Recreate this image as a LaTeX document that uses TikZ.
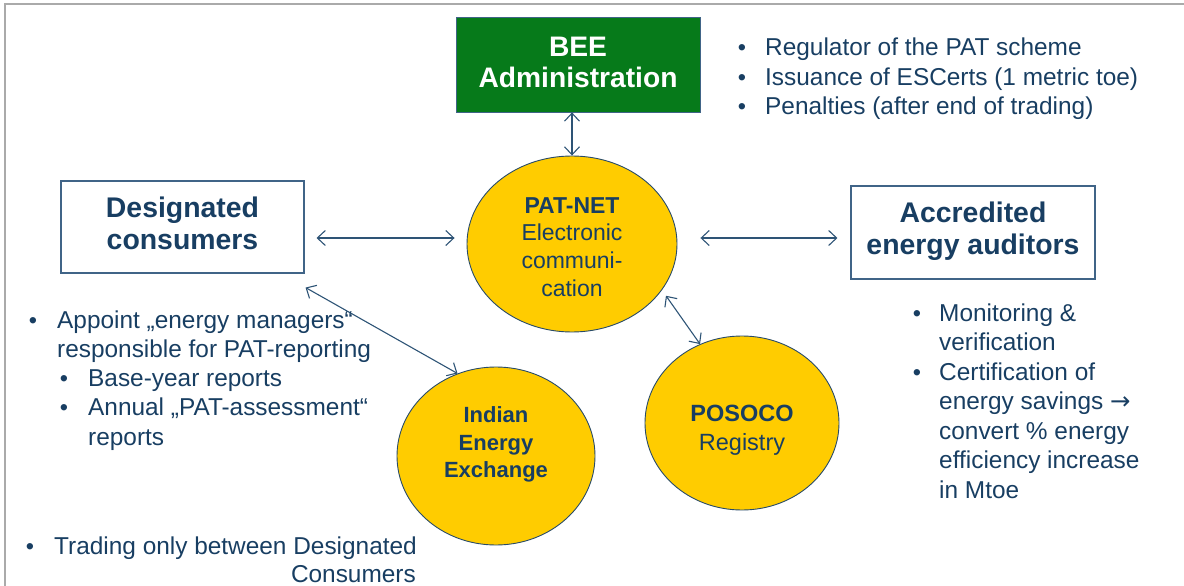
\documentclass[tikz,border=0pt]{standalone}
\usepackage{fontspec}
\setmainfont{Liberation Sans}
\newfontfamily\arrowfont{DejaVu Sans}
\usetikzlibrary{shapes.geometric,arrows.meta}
\definecolor{txt}{RGB}{24,62,98}
\definecolor{bordc}{RGB}{64,100,135}
\definecolor{arrc}{RGB}{46,84,118}
\definecolor{beegreen}{RGB}{6,122,26}
\definecolor{gold}{RGB}{255,204,0}
\definecolor{ellc}{RGB}{40,75,105}
\definecolor{framec}{RGB}{170,170,170}
\tikzset{
  titlebox/.style={draw=bordc, line width=1.1pt, fill=white, inner sep=0pt, align=center,
    text=txt, font=\bfseries\fontsize{28.4}{32}\selectfont},
  ell/.style={ellipse, draw=ellc, line width=0.9pt, fill=gold, inner sep=0pt, align=center, text=txt},
  arr/.style={draw=arrc, line width=1.1pt,
    {Straight Barb[length=8pt,width=15pt]}-{Straight Barb[length=8pt,width=15pt]}},
  btxt/.style={anchor=base west, inner sep=0pt, text=txt, font=\fontsize{24.4}{29}\selectfont},
  bul/.style={anchor=base, inner sep=0pt, text=txt, font=\fontsize{23.5}{29}\selectfont}
}
\begin{document}
\begin{tikzpicture}[x=1pt,y=-1pt]
\useasboundingbox (0,0) rectangle (1184,586);
% frame (top and left only)
\draw[framec, line width=2pt] (4.5,586) -- (4.5,4.5) -- (1184,4.5);

% boxes
\node[draw=bordc, line width=0.8pt, fill=beegreen, minimum width=244pt, minimum height=95pt, inner sep=0pt,
  align=center, text=white, font=\bfseries\fontsize{28.2}{31}\selectfont] (bee) at (578,64.5) {};
\node[inner sep=0pt, align=center, text=white, font=\bfseries\fontsize{28.2}{31}\selectfont] (beet) at (578,62.5)
  {BEE\\Administration};
\node[titlebox, minimum width=243pt, minimum height=92pt] (dc) at (182.5,227) {};
\node[inner sep=0pt, align=center, text=txt, font=\bfseries\fontsize{28.4}{32}\selectfont] (dct) at (182.5,223)
  {Designated\\consumers};
\node[titlebox, minimum width=244pt, minimum height=93pt] (aea) at (973,232.5) {};
\node[inner sep=0pt, align=center, text=txt, font=\bfseries\fontsize{28.4}{32}\selectfont] (aeat) at (973,231.5)
  {Accredited\\energy auditors};

% ellipses
\node[ell, minimum width=210pt, minimum height=176pt] (pat) at (572,244) {};
\node[inner sep=0pt, align=center, text=txt, font=\fontsize{23}{27.7}\selectfont] (patt) at (572,247)
  {\textbf{PAT-NET}\\Electronic\\communi-\\cation};
\node[ell, minimum width=194pt, minimum height=174pt] (pos) at (742,423) {};
\node[inner sep=0pt, align=center, text=txt, font=\fontsize{23.5}{29}\selectfont] (post) at (742,430)
  {\textbf{POSOCO}\\Registry};
\node[ell, minimum width=198pt, minimum height=178pt] (iex) at (496,456) {};
\node[inner sep=0pt, align=center, text=txt, font=\bfseries\fontsize{22}{27.5}\selectfont] (iext) at (496,444.5)
  {Indian\\Energy\\Exchange};

% connectors
\draw[arr] (bee.south -| pat.north) -- (pat.north);
\draw[arr] ([shift={(12,11)}]dc.east) -- ([shift={(-12,-6)}]pat.west);
\draw[arr] ([shift={(23,-6)}]pat.east) -- ([shift={(-13,5.5)}]aea.west);
\draw[arr] ([shift={(6,3)}]pat.-29) -- (pos.118);
\draw[arr] ([shift={(1,14)}]dc.south east) -- (iex.115);

% BEE bullets
\node[bul] (b1) at (742,56) {•};
\node[btxt] (t1) at (765,56) {Regulator of the PAT scheme};
\node[bul] (b2) at (742,85) {•};
\node[btxt] (t2) at (765,85) {Issuance of ESCerts (1 metric toe)};
\node[bul] (b3) at (742,114) {•};
\node[btxt] (t3) at (765,114) {Penalties (after end of trading)};

% left bullets
\node[bul] (l1) at (33,328) {•};
\node[btxt] (lt1) at (57,328) {Appoint „energy managers“};
\node[btxt] (lt2) at (57,357.3) {responsible for PAT-reporting};
\node[bul] (l2) at (64,386.6) {•};
\node[btxt] (lt3) at (88,386.6) {Base-year reports};
\node[bul] (l3) at (64,415.9) {•};
\node[btxt] (lt4) at (88,415.9) {Annual „PAT-assessment“};
\node[btxt] (lt5) at (88,445.2) {reports};

% bottom bullet
\node[bul] (m1) at (30,554) {•};
\node[btxt] (mt1) at (54,554) {Trading only between Designated};
\node[btxt, anchor=base east] (mt2) at (416,582) {Consumers};

% right bullets
\node[bul] (r1) at (917,321) {•};
\node[btxt] (rt1) at (939,321) {Monitoring \&};
\node[btxt] (rt2) at (939,350.5) {verification};
\node[bul] (r2) at (917,380) {•};
\node[btxt] (rt3) at (939,380) {Certification of};
\node[btxt] (rt4) at (939,409.5) {energy savings {\arrowfont →}};
\node[btxt] (rt5) at (939,439) {convert \% energy};
\node[btxt] (rt6) at (939,468.5) {efficiency increase};
\node[btxt] (rt7) at (939,498) {in Mtoe};
\end{tikzpicture}
\end{document}
